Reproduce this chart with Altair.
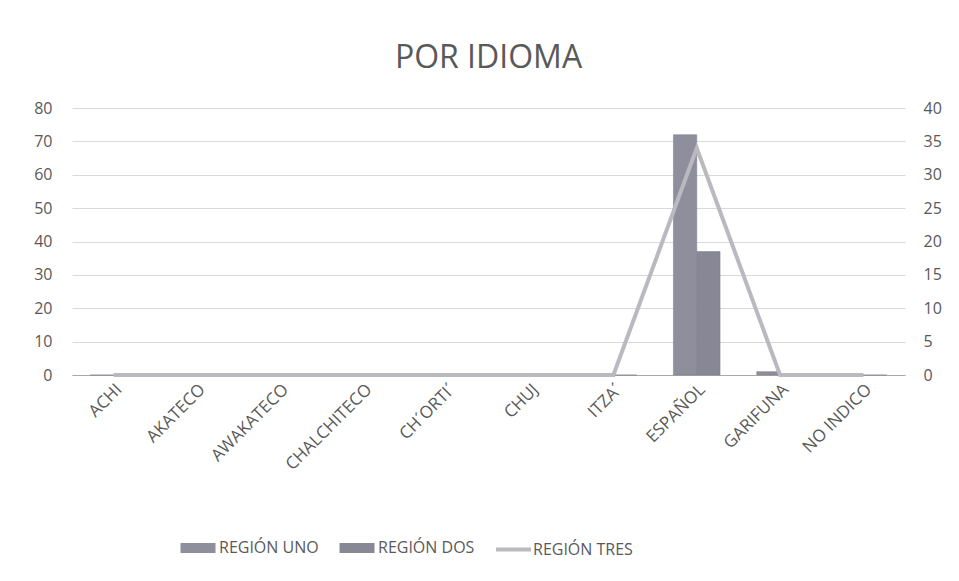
import altair as alt
import pandas as pd

idiomas = ["ACHI", "AKATECO", "AWAKATECO", "CHALCHITECO", "CH´ORTI´", "CHUJ", "ITZA´", "ESPAÑOL", "GARIFUNA", "NO INDICO"]
series = ["REGIÓN UNO", "REGIÓN DOS", "REGIÓN TRES"]
region_uno = [0, 0, 0, 0, 0, 0, 0, 72, 1, 0]
region_dos = [0, 0, 0, 0, 0, 0, 0, 37, 0, 0]
region_tres = [0, 0, 0, 0, 0, 0, 0, 34, 0, 0]
colores = ["#8e8e9c", "#878795", "#b9b9bf"]

bars = pd.DataFrame({
    "idioma": idiomas * 2,
    "serie": [series[0]] * len(idiomas) + [series[1]] * len(idiomas),
    "valor": region_uno + region_dos,
})
line = pd.DataFrame({"idioma": idiomas, "serie": [series[2]] * len(idiomas), "valor": region_tres})

FONT = "Open Sans"
TXT = "#595959"

x = alt.X("idioma:N", sort=idiomas, title=None,
          scale=alt.Scale(paddingInner=0.44, paddingOuter=0.22),
          axis=alt.Axis(labelAngle=-45, labelAlign="right", labelBaseline="top", labelFontSize=17,
                        labelColor=TXT, labelFont=FONT, ticks=False, domainColor="#a8a8a8",
                        labelPadding=6, labelLimit=200))

bar_layer = alt.Chart(bars).mark_bar(stroke="#7c7c8a", strokeWidth=0.5).encode(
    x=x,
    xOffset=alt.XOffset("serie:N", sort=series[:2]),
    y=alt.Y("valor:Q", title=None, scale=alt.Scale(domain=[0, 80]),
            axis=alt.Axis(values=list(range(0, 81, 10)), grid=True, gridColor="#d9d9d9",
                          domain=False, ticks=False, labelFontSize=16, labelColor=TXT,
                          labelFont=FONT, labelPadding=20)),
    color=alt.Color("serie:N", sort=series[:2],
                    scale=alt.Scale(domain=series[:2], range=colores[:2]),
                    legend=alt.Legend(
                        title=None, orient="none", legendX=116, legendY=430, direction="horizontal",
                        symbolType="M-1.75,-0.5L1.75,-0.5L1.75,0.5L-1.75,0.5Z",
                        symbolSize=400, symbolStrokeWidth=0, labelFontSize=16,
                        labelColor=TXT, labelFont=FONT, columnPadding=20, labelOffset=11,
                        symbolOpacity=1)),
)

line_layer = alt.Chart(line).mark_line(strokeWidth=4).encode(
    x=x,
    y=alt.Y("valor:Q", title=None, scale=alt.Scale(domain=[0, 40]),
            axis=alt.Axis(orient="right", values=list(range(0, 41, 5)), grid=False,
                          domain=False, ticks=False, labelFontSize=16, labelColor=TXT,
                          labelFont=FONT, labelPadding=18)),
    stroke=alt.Stroke("serie:N", scale=alt.Scale(domain=series[2:], range=colores[2:]),
                      legend=alt.Legend(
                          title=None, orient="none", legendX=422, legendY=422,
                          symbolType="stroke", symbolStrokeWidth=4, symbolSize=1225,
                          labelFontSize=16, labelColor=TXT, labelFont=FONT, labelOffset=0,
                          symbolOpacity=1)),
)

chart = alt.layer(bar_layer, line_layer).resolve_scale(y="independent").properties(
    width=833, height=267,
    title=alt.TitleParams("POR IDIOMA", fontSize=32, font=FONT, fontWeight="normal", color=TXT,
                          anchor="middle", offset=25),
    autosize=alt.AutoSizeParams(type="none"),
    padding={"left": 64, "top": 100, "right": 46, "bottom": 200},
).configure_view(stroke=None)

chart.save("out.html", embed_options={"renderer": "svg", "actions": False})
